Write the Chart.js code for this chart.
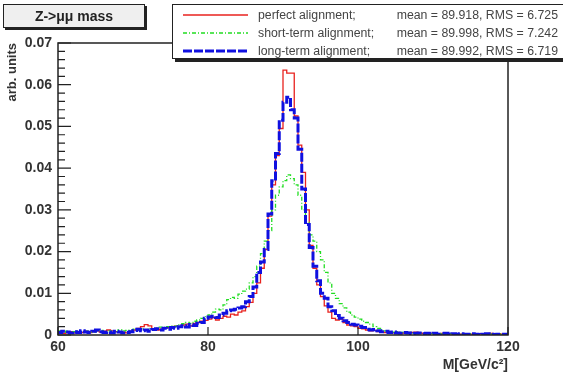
<!DOCTYPE html>
<html><head><meta charset="utf-8">
<script src="https://cdn.jsdelivr.net/npm/chart.js@4"></script>
<style>
html,body{margin:0;padding:0;background:#fff;}
#wrap{position:relative;width:563px;height:374px;overflow:hidden;font-family:"Liberation Sans",Arial,sans-serif;}
#c{position:absolute;left:0;top:0;}
#title{position:absolute;left:3px;top:4px;width:140px;height:22px;background:#efefef;border:1px solid #222;box-shadow:2px 2px 0 #222;font-weight:bold;font-size:14px;line-height:22px;text-align:center;color:#222;z-index:2;}
#legend{position:absolute;left:172px;top:4px;width:420px;height:53px;background:#fff;border:1px solid #222;box-shadow:3px 3px 0 #222;z-index:2;}
.row{position:absolute;left:0;height:14px;width:420px;font-size:12.3px;color:#444;}
.row svg{position:absolute;left:10px;top:0;}
.row .lab{position:absolute;left:85px;top:0;line-height:14px;white-space:nowrap;}
.row .st{position:absolute;top:0;line-height:14px;white-space:nowrap;text-align:right;width:200px;}
</style></head>
<body>
<div id="wrap">
<canvas id="c" width="563" height="374"></canvas>
<div id="title">Z-&gt;μμ mass</div>
<div id="legend"></div>
</div>
<script>
// ---- data (arb. units per 0.5 GeV bin, 60..120 GeV) ----
const massMin = 60, massMax = 120, binWidth = 0.5;
const xTicks = [60, 80, 100, 120];
const yTicks = [0, 0.01, 0.02, 0.03, 0.04, 0.05, 0.06, 0.07];
const seriesNames = ["perfect alignment;", "short-term alignment;", "long-term alignment;"];
const seriesStats = ["mean = 89.918, RMS = 6.725", "mean = 89.998, RMS = 7.242", "mean = 89.992, RMS = 6.719"];

const perfect = [
 0.0005,0.0007,0.0004,0.0006,0.0008,0.0005,0.0007,0.0006,0.0009,0.0006,
 0.0008,0.0010,0.0007,0.0009,0.0012,0.0010,0.0008,0.0006,0.0007,0.0005,
 0.0009,0.0012,0.0016,0.0020,0.0025,0.0022,0.0015,0.0012,0.0014,0.0017,
 0.0018,0.0016,0.0021,0.0019,0.0024,0.0026,0.0022,0.0028,0.0030,0.0033,
 0.0035,0.0038,0.0042,0.0036,0.0040,0.0045,0.0043,0.0050,0.0048,0.0055,
 0.0058,0.0068,0.0078,0.0100,0.0125,0.0160,0.0205,0.0285,0.0360,0.0430,
 0.0495,0.0635,0.0628,0.0628,0.0525,0.0455,0.0390,0.0300,0.0215,0.0160,
 0.0120,0.0092,0.0070,0.0055,0.0040,0.0036,0.0038,0.0030,0.0024,0.0022,
 0.0020,0.0016,0.0015,0.0012,0.0010,0.0011,0.0008,0.0007,0.0006,0.0007,
 0.0005,0.0006,0.0004,0.0005,0.0004,0.0006,0.0007,0.0005,0.0004,0.0003,
 0.0004,0.0003,0.0003,0.0004,0.0002,0.0003,0.0002,0.0003,0.0002,0.0002,
 0.0003,0.0002,0.0002,0.0003,0.0002,0.0002,0.0004,0.0003,0.0003,0.0002
];
const shortTerm = [
 0.0008,0.0010,0.0007,0.0009,0.0006,0.0008,0.0010,0.0007,0.0009,0.0008,
 0.0007,0.0009,0.0011,0.0008,0.0010,0.0009,0.0008,0.0012,0.0010,0.0011,
 0.0012,0.0014,0.0011,0.0015,0.0013,0.0016,0.0014,0.0017,0.0019,0.0018,
 0.0020,0.0022,0.0021,0.0025,0.0027,0.0030,0.0028,0.0033,0.0036,0.0040,
 0.0044,0.0048,0.0055,0.0062,0.0060,0.0072,0.0085,0.0090,0.0088,0.0098,
 0.0105,0.0110,0.0125,0.0140,0.0165,0.0195,0.0225,0.0250,0.0300,0.0335,
 0.0355,0.0370,0.0384,0.0375,0.0360,0.0335,0.0300,0.0270,0.0240,0.0225,
 0.0200,0.0180,0.0150,0.0125,0.0100,0.0088,0.0075,0.0065,0.0055,0.0048,
 0.0043,0.0038,0.0033,0.0030,0.0026,0.0020,0.0016,0.0012,0.0010,0.0009,
 0.0007,0.0008,0.0006,0.0005,0.0006,0.0004,0.0005,0.0004,0.0003,0.0004,
 0.0003,0.0004,0.0003,0.0002,0.0003,0.0003,0.0002,0.0003,0.0002,0.0002,
 0.0002,0.0003,0.0002,0.0002,0.0001,0.0002,0.0002,0.0001,0.0002,0.0001
];
const longTerm = [
 0.0008,0.0006,0.0009,0.0007,0.0005,0.0008,0.0006,0.0010,0.0007,0.0006,
 0.0009,0.0012,0.0008,0.0006,0.0007,0.0005,0.0009,0.0007,0.0005,0.0006,
 0.0008,0.0011,0.0014,0.0010,0.0012,0.0009,0.0013,0.0015,0.0012,0.0016,
 0.0014,0.0018,0.0016,0.0020,0.0022,0.0019,0.0025,0.0023,0.0028,0.0030,
 0.0040,0.0043,0.0045,0.0042,0.0048,0.0052,0.0058,0.0060,0.0062,0.0065,
 0.0068,0.0080,0.0092,0.0115,0.0150,0.0175,0.0205,0.0290,0.0370,0.0435,
 0.0515,0.0558,0.0570,0.0540,0.0520,0.0445,0.0350,0.0265,0.0210,0.0165,
 0.0130,0.0100,0.0088,0.0068,0.0058,0.0047,0.0040,0.0034,0.0030,0.0026,
 0.0024,0.0021,0.0018,0.0014,0.0012,0.0013,0.0010,0.0008,0.0009,0.0006,
 0.0007,0.0005,0.0004,0.0006,0.0005,0.0003,0.0004,0.0005,0.0003,0.0004,
 0.0003,0.0004,0.0002,0.0003,0.0004,0.0002,0.0003,0.0002,0.0003,0.0002,
 0.0002,0.0003,0.0002,0.0001,0.0002,0.0003,0.0002,0.0001,0.0002,0.0002
];

const styles = [
  {color:'#e8221e', width:1.3, dash:[]},
  {color:'#22dd22', width:1.3, dash:[4,2,1,2]},
  {color:'#1010e0', width:3, dash:[9,2]}
];

function histPoints(vals){
  const pts = vals.map((v,i)=>({x: massMin + i*binWidth, y: v}));
  pts.push({x: massMax, y: vals[vals.length-1]});
  return pts;
}

// legend (HTML)
const rowsY = [3, 21, 39];
const leg = document.getElementById('legend');
seriesNames.forEach((n,i)=>{
  const r = document.createElement('div');
  r.className='row'; r.style.top = rowsY[i]+'px';
  const s = styles[i];
  r.innerHTML = `<svg width="66" height="14"><line x1="0" y1="7" x2="65" y2="7" stroke="${s.color}" stroke-width="${s.width}" stroke-dasharray="${s.dash.join(',')}"/></svg>`+
    `<span class="lab">${n}</span><span class="st" style="left:${558-173-200}px">${seriesStats[i]}</span>`;
  leg.appendChild(r);
});

const frameTicks = {
  id:'frameTicks',
  afterDatasetsDraw(chart){
    const {ctx, chartArea:a, scales:{x,y}} = chart;
    ctx.save();
    ctx.strokeStyle='#222'; ctx.lineWidth=1.5;
    ctx.strokeRect(a.left, a.top, a.right-a.left, a.bottom-a.top);
    ctx.lineWidth=1.2;
    ctx.beginPath();
    const ystep = yTicks[1]-yTicks[0];
    for(let k=0;k<yTicks.length;k++){
      const py = y.getPixelForValue(yTicks[k]);
      ctx.moveTo(a.left, py); ctx.lineTo(a.left+13, py);
      if(k<yTicks.length-1){
        for(let m=1;m<5;m++){
          const pm = y.getPixelForValue(yTicks[k]+ystep*m/5);
          ctx.moveTo(a.left, pm); ctx.lineTo(a.left+7, pm);
        }
      }
    }
    xTicks.forEach(t=>{
      const px = x.getPixelForValue(t);
      ctx.moveTo(px, a.bottom); ctx.lineTo(px, a.bottom-8);
    });
    ctx.stroke();
    ctx.restore();
  }
};

const tickFont = {family:'"Liberation Sans", Arial, sans-serif', size:14, weight:'bold'};
new Chart(document.getElementById('c'), {
  type:'line',
  data:{datasets:[
    {label:seriesNames[2], data:histPoints(longTerm), borderColor:styles[2].color, borderWidth:styles[2].width, borderDash:styles[2].dash, stepped:'after', pointRadius:0, fill:false, order:1},
    {label:seriesNames[1], data:histPoints(shortTerm), borderColor:styles[1].color, borderWidth:styles[1].width, borderDash:styles[1].dash, stepped:'after', pointRadius:0, fill:false, order:2},
    {label:seriesNames[0], data:histPoints(perfect), borderColor:styles[0].color, borderWidth:styles[0].width, borderDash:styles[0].dash, stepped:'after', pointRadius:0, fill:false, order:3}
  ]},
  options:{
    responsive:false, animation:false, devicePixelRatio:1,
    layout:{padding:{top:43, right:55, left:0, bottom:0}},
    plugins:{legend:{display:false}, tooltip:{enabled:false}},
    scales:{
      x:{type:'linear', min:massMin, max:massMax,
         grid:{display:false, drawTicks:false}, border:{display:false},
         afterFit(s){ s.height = 39; },
         ticks:{stepSize:20, padding:4, color:'#333', font:tickFont, maxRotation:0,
                callback:(v)=> xTicks.includes(v) ? String(v) : ''},
         title:{display:true, text:'M[GeV/c²]', align:'end', color:'#333', font:tickFont, padding:{top:4,bottom:0}}},
      y:{type:'linear', min:yTicks[0], max:yTicks[yTicks.length-1],
         grid:{display:false, drawTicks:false}, border:{display:false},
         afterFit(s){ s.width = 58; },
         ticks:{stepSize:0.01, padding:6, color:'#333', font:tickFont,
                callback:(v)=>{ const r = Math.round(v*100)/100; return r===0 ? '0' : r.toFixed(2); }},
         title:{display:true, text:'arb. units', align:'end', color:'#333', font:{family:'"Liberation Sans", Arial, sans-serif', size:13, weight:'bold'}, padding:{top:5,bottom:0}}}
    }
  },
  plugins:[frameTicks]
});
</script>
</body></html>
